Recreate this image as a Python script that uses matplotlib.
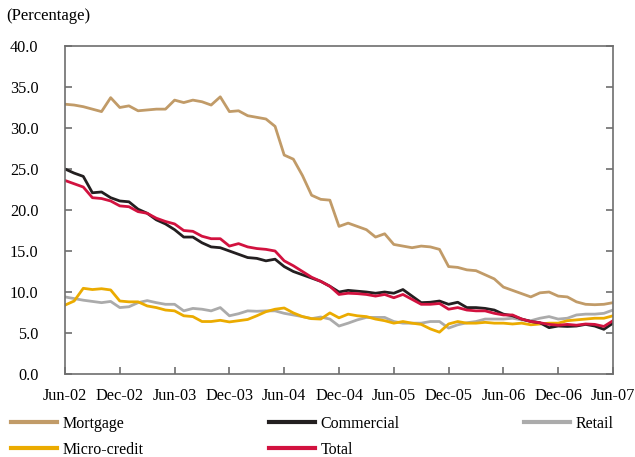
import numpy as np
import matplotlib
matplotlib.use("Agg")
import matplotlib.pyplot as plt
from matplotlib.lines import Line2D

plt.rcParams['font.family'] = ['Liberation Serif', 'DejaVu Serif']

tick_labels = ["Jun-02", "Dec-02", "Jun-03", "Dec-03", "Jun-04", "Dec-04",
               "Jun-05", "Dec-05", "Jun-06", "Dec-06", "Jun-07"]

mortgage = [32.9, 32.8, 32.6, 32.3, 32.0, 33.7, 32.5, 32.7, 32.1, 32.2,
            32.3, 32.3, 33.4, 33.1, 33.4, 33.2, 32.8, 33.8, 32.0, 32.1,
            31.5, 31.3, 31.1, 30.2, 26.7, 26.2, 24.2, 21.8, 21.3, 21.2,
            18.0, 18.4, 18.0, 17.6, 16.7, 17.1, 15.8, 15.6, 15.4, 15.6,
            15.5, 15.2, 13.1, 13.0, 12.7, 12.6, 12.1, 11.6, 10.6, 10.2,
            9.8, 9.4, 9.9, 10.0, 9.5, 9.4, 8.8, 8.5, 8.45, 8.5, 8.7]

commercial = [25.0, 24.5, 24.1, 22.1, 22.2, 21.5, 21.1, 21.0, 20.1, 19.6,
              18.8, 18.3, 17.6, 16.7, 16.7, 16.0, 15.5, 15.4, 15.0, 14.6,
              14.2, 14.1, 13.8, 14.0, 13.1, 12.5, 12.1, 11.7, 11.3, 10.7,
              10.0, 10.2, 10.1, 10.0, 9.85, 10.0, 9.85, 10.3, 9.5, 8.7,
              8.75, 8.9, 8.5, 8.75, 8.1, 8.1, 8.0, 7.8, 7.3, 7.1,
              6.7, 6.4, 6.25, 5.65, 5.85, 5.8, 5.85, 6.05, 5.85, 5.45, 6.2]

retail = [9.4, 9.2, 9.0, 8.85, 8.7, 8.85, 8.1, 8.2, 8.7, 8.95,
          8.7, 8.5, 8.5, 7.7, 8.0, 7.9, 7.7, 8.1, 7.1, 7.35,
          7.7, 7.65, 7.7, 7.7, 7.4, 7.2, 7.0, 6.75, 6.95, 6.7,
          5.85, 6.2, 6.6, 6.9, 6.9, 6.9, 6.4, 6.2, 6.2, 6.2,
          6.4, 6.4, 5.6, 6.0, 6.25, 6.4, 6.7, 6.7, 6.7, 6.8,
          6.6, 6.5, 6.8, 7.0, 6.7, 6.8, 7.2, 7.3, 7.3, 7.4, 7.8]

micro_credit = [8.4, 8.9, 10.45, 10.3, 10.4, 10.25, 8.9, 8.8, 8.8, 8.3,
                8.1, 7.8, 7.7, 7.1, 7.0, 6.4, 6.4, 6.55, 6.35, 6.5,
                6.65, 7.1, 7.6, 7.9, 8.05, 7.45, 7.0, 6.75, 6.7, 7.45,
                6.85, 7.3, 7.1, 7.0, 6.7, 6.5, 6.2, 6.4, 6.2, 6.05,
                5.5, 5.1, 6.1, 6.4, 6.2, 6.2, 6.3, 6.2, 6.2, 6.1,
                6.2, 6.0, 6.1, 6.2, 6.2, 6.5, 6.6, 6.7, 6.8, 6.8, 7.1]

total = [23.6, 23.2, 22.8, 21.5, 21.4, 21.1, 20.5, 20.4, 19.8, 19.6,
         19.0, 18.6, 18.3, 17.5, 17.4, 16.8, 16.5, 16.5, 15.6, 15.9,
         15.5, 15.3, 15.2, 15.0, 13.8, 13.2, 12.5, 11.8, 11.3, 10.7,
         9.7, 9.85, 9.8, 9.7, 9.5, 9.7, 9.3, 9.7, 9.1, 8.5,
         8.5, 8.6, 7.9, 8.1, 7.8, 7.7, 7.7, 7.4, 7.2, 7.2,
         6.7, 6.4, 6.25, 6.05, 5.95, 6.05, 5.95, 6.1, 6.05, 5.8, 6.5]

series = [
    ("Mortgage", mortgage, "#C19B68"),
    ("Commercial", commercial, "#231F20"),
    ("Retail", retail, "#ABABAB"),
    ("Micro-credit", micro_credit, "#EBAB00"),
    ("Total", total, "#D2123F"),
]
draw_order = ["Retail", "Micro-credit", "Mortgage", "Commercial", "Total"]

months = np.arange(len(mortgage))

fig = plt.figure(figsize=(6.35, 4.57), dpi=100)
ax = fig.add_axes([65/635, 1-374/457, (613-65)/635, (374-46)/457])

lookup = {n: (v, c) for n, v, c in series}
for name in draw_order:
    v, c = lookup[name]
    ax.plot(months, v, color=c, lw=2.0, solid_joinstyle='round')

ax.set_xlim(0, 60)
ax.set_ylim(0, 40)
ax.set_xticks(np.arange(0, 61, 6))
ax.set_xticklabels(tick_labels)
ax.set_yticks(np.arange(0, 40.1, 5))
ax.set_yticklabels([f"{t:.1f}" for t in np.arange(0, 40.1, 5)])

spine_col = "#6E6E6E"
for s in ax.spines.values():
    s.set_color(spine_col)
    s.set_linewidth(1.2)
ax.tick_params(axis='both', direction='in', length=5, width=1.2,
               color=spine_col, labelsize=11.7, labelcolor='black')
ax.tick_params(axis='y', right=True, pad=19)
ax.tick_params(axis='x', pad=10)

fig.text(6/635, 1-16/457, "(Percentage)", fontsize=12, va='center', ha='left')

# Legend: three columns, row-major order
cols = [(11, ["Mortgage", "Micro-credit"]),
        (269, ["Commercial", "Total"]),
        (524, ["Retail"])]
for x0, names in cols:
    handles = [Line2D([], [], color=lookup[n][1], lw=3.0) for n in names]
    fig.legend(handles, names, loc='upper left',
               bbox_to_anchor=(x0/635 - 0.007, 1-411/457),
               frameon=False, fontsize=11.5, handlelength=2.85,
               handletextpad=0.35, labelspacing=0.62, borderaxespad=0,
               borderpad=0.3)

fig.savefig("out.png", dpi=100)
